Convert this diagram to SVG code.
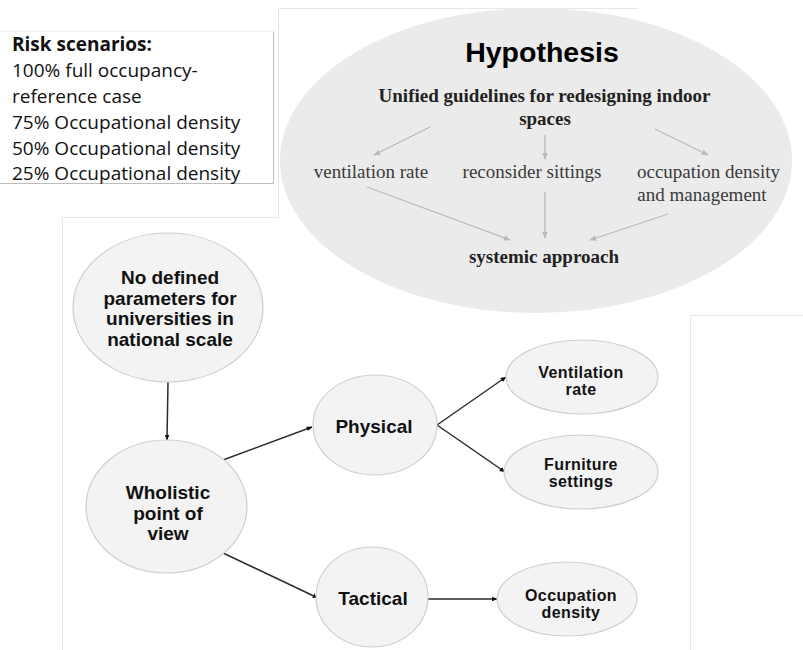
<svg xmlns="http://www.w3.org/2000/svg" width="803" height="650" viewBox="0 0 803 650">
<style>
.frame{fill:none;stroke:#e6e6e6;stroke-width:1}
.risk{font-family:"Open Sans","Liberation Sans",sans-serif;font-size:19px;fill:#111}
.node{fill:#f3f3f3;stroke:#cfcfcf;stroke-width:1.2}
.nt{font-family:"Liberation Sans",Arial,sans-serif;font-weight:bold;fill:#111;text-anchor:middle}
.serif{font-family:"Liberation Serif","Times New Roman",serif;text-anchor:middle}
.harrow{stroke:#b9b9b9;stroke-width:1.3;fill:none}
.arrow{stroke:#2a2a2a;stroke-width:1.5;fill:none}
</style>
<defs>
<marker id="ah" viewBox="0 0 10 10" refX="9" refY="5" markerWidth="6" markerHeight="6" orient="auto" markerUnits="userSpaceOnUse">
<path d="M0,1 L10,5 L0,9 z" fill="#111"/>
</marker>
<marker id="hah" viewBox="0 0 10 10" refX="9" refY="5" markerWidth="7" markerHeight="7" orient="auto" markerUnits="userSpaceOnUse">
<path d="M0,1 L10,5 L0,9 z" fill="#b9b9b9"/>
</marker>
</defs>
<rect width="803" height="650" fill="#ffffff"/>
<g id="frames">
<polyline class="frame" points="62.5,650 62.5,217.5 278.5,217.5 278.5,8.5 638,8.5"/>
<polyline class="frame" points="690.5,650 690.5,315.5 803,315.5"/>
<line x1="0" y1="31.5" x2="273" y2="31.5" stroke="#f0f0f0"/>
<polyline points="273.5,31.5 273.5,183.5 0,183.5" fill="none" stroke="#bdbdbd"/>
</g>
<g id="risk-box">
<text class="risk" x="12" y="51" font-weight="bold">Risk scenarios:</text>
<text class="risk" x="12" y="77">100% full occupancy-</text>
<text class="risk" x="12" y="103">reference case</text>
<text class="risk" x="12" y="129">75% Occupational density</text>
<text class="risk" x="12" y="155">50% Occupational density</text>
<text class="risk" x="12" y="180">25% Occupational density</text>
</g>
<g id="hypothesis">
<ellipse cx="536" cy="160.5" rx="256" ry="152.5" fill="#ebebeb"/>
<text x="542" y="62" font-family="Liberation Sans,Arial,sans-serif" font-weight="bold" font-size="28.5" text-anchor="middle" fill="#000">Hypothesis</text>
<text class="serif" x="544.5" y="102" font-size="19" font-weight="bold" fill="#222">Unified guidelines for redesigning indoor</text>
<text class="serif" x="545" y="125" font-size="19" font-weight="bold" fill="#222">spaces</text>
<text class="serif" x="371" y="178" font-size="19" fill="#3a3a3a">ventilation rate</text>
<text class="serif" x="532" y="178" font-size="19" fill="#3a3a3a">reconsider sittings</text>
<text class="serif" x="708.5" y="178" font-size="19" fill="#3a3a3a">occupation density</text>
<text class="serif" x="702" y="201" font-size="19" fill="#3a3a3a">and management</text>
<text class="serif" x="544" y="263" font-size="19" font-weight="bold" fill="#222">systemic approach</text>
</g>
<g id="hypothesis-connectors">
<line class="harrow" x1="430" y1="127" x2="374" y2="155" marker-end="url(#hah)"/>
<line class="harrow" x1="545" y1="135" x2="545" y2="159" marker-end="url(#hah)"/>
<line class="harrow" x1="655" y1="129" x2="708" y2="155" marker-end="url(#hah)"/>
<line class="harrow" x1="367" y1="187" x2="510" y2="240" marker-end="url(#hah)"/>
<line class="harrow" x1="545" y1="192" x2="545" y2="238" marker-end="url(#hah)"/>
<line class="harrow" x1="668" y1="214" x2="590" y2="240" marker-end="url(#hah)"/>
</g>
<g id="connectors">
<line class="arrow" x1="168" y1="382" x2="167" y2="440" marker-end="url(#ah)"/>
<line class="arrow" x1="223" y1="460" x2="312" y2="427" marker-end="url(#ah)"/>
<line class="arrow" x1="223" y1="553" x2="318" y2="598" marker-end="url(#ah)"/>
<line class="arrow" x1="437" y1="425" x2="506" y2="377" marker-end="url(#ah)"/>
<line class="arrow" x1="437" y1="425" x2="505" y2="472" marker-end="url(#ah)"/>
<line class="arrow" x1="426" y1="599" x2="497" y2="599" marker-end="url(#ah)"/>
</g>
<g id="n-nodefined">
<ellipse class="node" cx="168" cy="307.5" rx="95" ry="74.5"/>
<text class="nt" x="170" y="284" font-size="19">No defined</text>
<text class="nt" x="170" y="304.5" font-size="19">parameters for</text>
<text class="nt" x="170" y="325" font-size="19">universities in</text>
<text class="nt" x="170" y="345.5" font-size="19">national scale</text>
</g>
<g id="n-wholistic">
<ellipse class="node" cx="166.5" cy="506.5" rx="80.5" ry="66.5"/>
<text class="nt" x="168" y="499" font-size="19">Wholistic</text>
<text class="nt" x="168" y="520" font-size="19">point of</text>
<text class="nt" x="168" y="540" font-size="19">view</text>
</g>
<g id="n-physical">
<ellipse class="node" cx="375" cy="425" rx="62" ry="50"/>
<text class="nt" x="374" y="433" font-size="19">Physical</text>
</g>
<g id="n-tactical">
<ellipse class="node" cx="372" cy="597" rx="56" ry="50"/>
<text class="nt" x="373" y="605" font-size="19">Tactical</text>
</g>
<g id="n-ventilation">
<ellipse class="node" cx="582" cy="377" rx="76" ry="37"/>
<text class="nt" x="581" y="378" font-size="16" letter-spacing="0.4">Ventilation</text>
<text class="nt" x="581" y="395" font-size="16" letter-spacing="0.4">rate</text>
</g>
<g id="n-furniture">
<ellipse class="node" cx="581" cy="472" rx="77" ry="37"/>
<text class="nt" x="581" y="470" font-size="16" letter-spacing="0.4">Furniture</text>
<text class="nt" x="581" y="487" font-size="16" letter-spacing="0.4">settings</text>
</g>
<g id="n-occupation">
<ellipse class="node" cx="567" cy="599" rx="70" ry="37"/>
<text class="nt" x="571" y="601" font-size="16" letter-spacing="0.4">Occupation</text>
<text class="nt" x="571" y="618" font-size="16" letter-spacing="0.4">density</text>
</g>
</svg>
